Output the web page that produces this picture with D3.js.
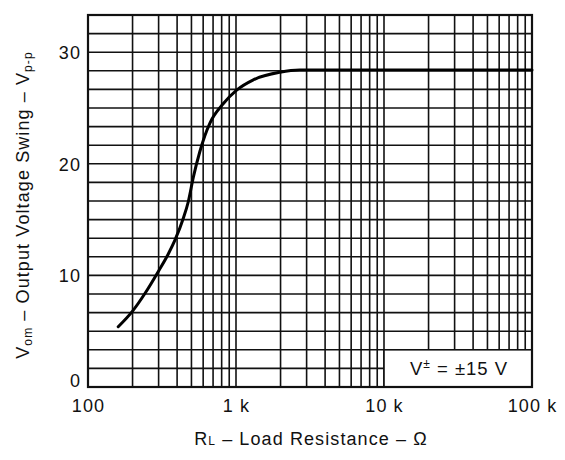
<!DOCTYPE html>
<html>
<head>
<meta charset="utf-8">
<script src="https://cdn.jsdelivr.net/npm/d3@7"></script>
<style>
  html, body { margin: 0; padding: 0; background: #fff; }
  svg { display: block; }
  text { font-family: "Liberation Sans", Arial, Helvetica, sans-serif; fill: #111; }
</style>
</head>
<body>
<svg id="chart" width="565" height="460"></svg>
<script>
// ---- data ----
const loadResistance = [160, 200, 243, 300, 348, 388, 440, 476, 515, 570, 615, 669, 822, 1010, 1300, 1980, 2700, 100000];
const outputSwing    = [5.4, 6.8, 8.4, 10.4, 11.9, 13.2, 15.1, 16.6, 18.8, 21.1, 22.5, 23.7, 25.4, 26.6, 27.5, 28.2, 28.4, 28.4];
const xTickValues = [100, 1000, 10000, 100000];
const xTickLabels = ["100", "1 k", "10 k", "100 k"];
const yTickValues = [0, 10, 20, 30];
const yMax = 100 / 3;
const yGridStep = 10 / 6;
const legendText = ["V", "\u00B1", " = \u00B115 V"];

// ---- layout ----
const svg = d3.select("#chart");
const L = 88, R = 532, T = 15, B = 387;

const x = d3.scaleLog().domain([100, 100000]).range([L, R]);
const y = d3.scaleLinear().domain([0, yMax]).range([B, T]);

// minor/major vertical grid
const xGrid = [];
for (let d = 100; d < 100000; d *= 10) {
  for (let k = 1; k <= 9; k++) xGrid.push(d * k);
}
xGrid.push(100000);
const yGrid = d3.range(0, yMax + 0.001, yGridStep);

const g = svg.append("g");

g.append("g").selectAll("line").data(xGrid).join("line")
  .attr("x1", d => x(d)).attr("x2", d => x(d))
  .attr("y1", T).attr("y2", B)
  .attr("stroke", "#111").attr("stroke-width", 1.6);

g.append("g").selectAll("line").data(yGrid).join("line")
  .attr("x1", L).attr("x2", R)
  .attr("y1", d => y(d)).attr("y2", d => y(d))
  .attr("stroke", "#111").attr("stroke-width", 1.6);

// legend box (covers grid)
const legX0 = x(10000), legY0 = y(yGridStep * 2);
g.append("rect")
  .attr("x", legX0).attr("y", legY0)
  .attr("width", R - legX0).attr("height", B - legY0)
  .attr("fill", "#fff").attr("stroke", "#111").attr("stroke-width", 1.6);

const lt = g.append("text")
  .attr("x", (legX0 + R) / 2 + 1).attr("y", 375)
  .attr("text-anchor", "middle")
  .attr("font-size", 18.5)
  .attr("letter-spacing", 1);
lt.append("tspan").text(legendText[0]);
lt.append("tspan").attr("font-size", 12).attr("dy", -7).text(legendText[1]);
lt.append("tspan").attr("dy", 7).text(legendText[2]);

// frame
g.append("rect")
  .attr("x", L).attr("y", T).attr("width", R - L).attr("height", B - T)
  .attr("fill", "none").attr("stroke", "#111").attr("stroke-width", 2.2);

// curve
const line = d3.line()
  .x((d, i) => x(loadResistance[i]))
  .y(d => y(d))
  .curve(d3.curveMonotoneX);
g.append("path")
  .datum(outputSwing)
  .attr("d", line)
  .attr("fill", "none")
  .attr("stroke", "#000")
  .attr("stroke-width", 3)
  .attr("stroke-linecap", "round");

// x axis labels
const xAxis = d3.axisBottom(x)
  .tickValues(xTickValues)
  .tickFormat((d, i) => xTickLabels[i])
  .tickSize(0).tickPadding(0);
const xa = svg.append("g").attr("transform", `translate(0,${B})`).call(xAxis);
xa.select(".domain").remove();
xa.selectAll("text")
  .attr("y", 24.5).attr("dy", 0)
  .attr("font-size", 18).attr("letter-spacing", 1.1)
  .attr("fill", "#111")
  .style("font-family", '"Liberation Sans", Arial, sans-serif');

// y axis labels
const yAxis = d3.axisLeft(y)
  .tickValues(yTickValues)
  .tickFormat(d3.format("d"))
  .tickSize(0).tickPadding(0);
const ya = svg.append("g").attr("transform", `translate(${L - 7},0)`).call(yAxis);
ya.select(".domain").remove();
ya.selectAll("text")
  .attr("x", 0)
  .attr("dy", d => d === 0 ? "-0.05em" : "0.36em")
  .attr("font-size", 18).attr("letter-spacing", 1.1)
  .attr("fill", "#111")
  .style("font-family", '"Liberation Sans", Arial, sans-serif');

// x title
const xt = svg.append("text")
  .attr("x", 311).attr("y", 445)
  .attr("text-anchor", "middle")
  .attr("font-size", 18).attr("letter-spacing", 1.1);
xt.append("tspan").text("R");
xt.append("tspan").attr("font-size", 12).text("L");
xt.append("tspan").text(" \u2013 Load Resistance \u2013 \u03A9");

// y title
const yt = svg.append("text")
  .attr("transform", "translate(28.5,205) rotate(-90)")
  .attr("text-anchor", "middle")
  .attr("font-size", 18).attr("letter-spacing", 1.1);
yt.append("tspan").text("V");
yt.append("tspan").attr("font-size", 12).attr("dy", 3).text("om");
yt.append("tspan").attr("dy", -3).text(" \u2013 Output Voltage Swing \u2013 V");
yt.append("tspan").attr("font-size", 12).attr("dy", 3).text("p-p");
</script>
</body>
</html>
